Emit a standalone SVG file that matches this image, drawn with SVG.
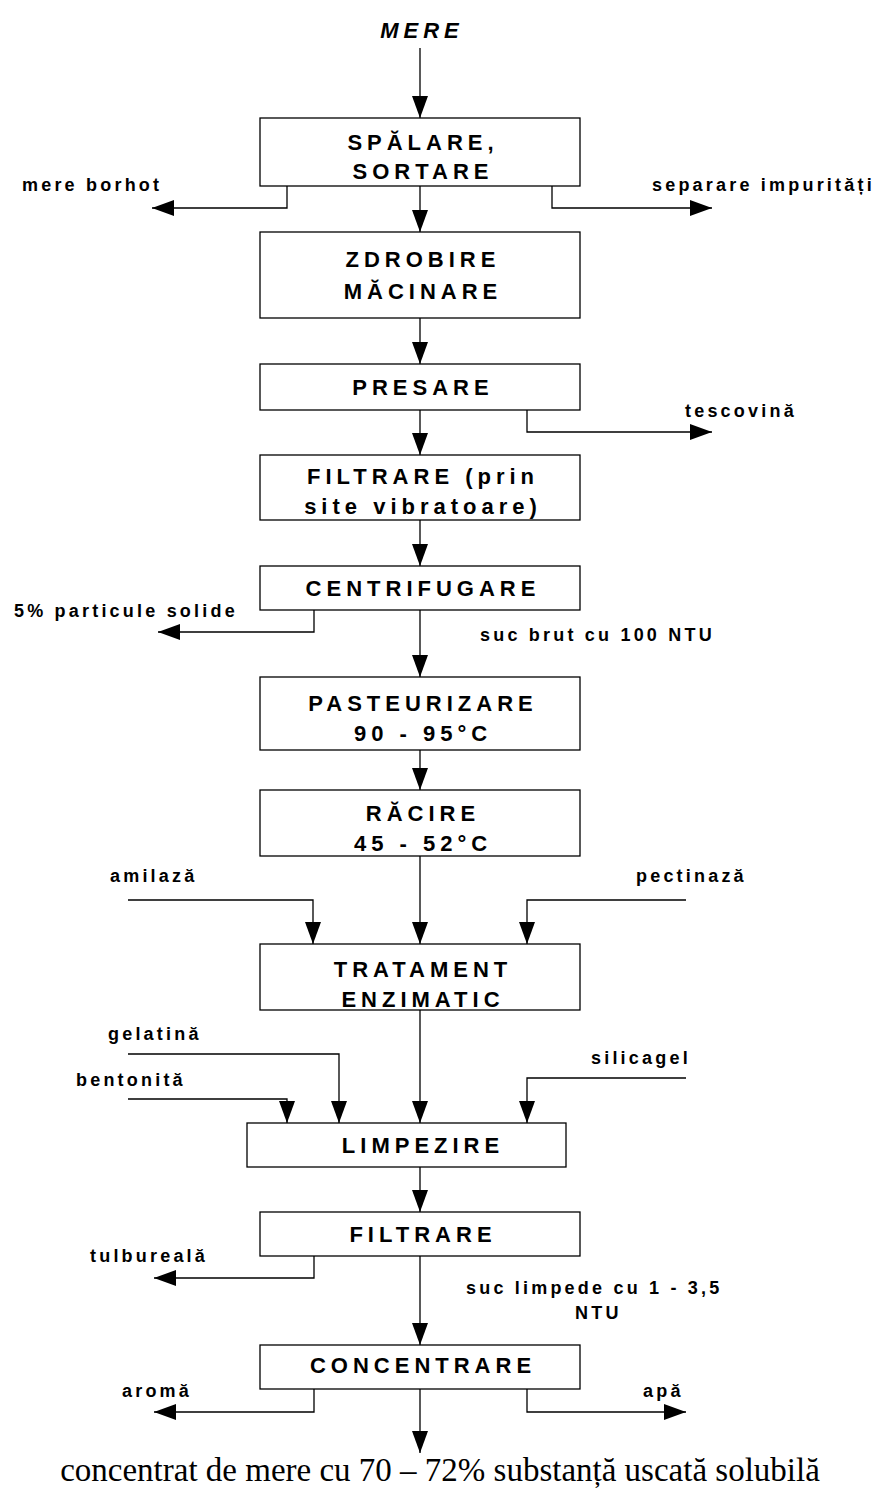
<svg xmlns="http://www.w3.org/2000/svg" width="877" height="1491" viewBox="0 0 877 1491">
<style>
.box{fill:#fff;stroke:#000;stroke-width:1.3}
.bl{font-family:"Liberation Sans",Arial,sans-serif;font-weight:bold;font-size:22px;letter-spacing:5px;text-anchor:middle;fill:#000}
.sl{font-family:"Liberation Sans",Arial,sans-serif;font-weight:bold;font-size:18px;letter-spacing:3.2px;fill:#000}
.ar{fill:none;stroke:#000;stroke-width:1.3;marker-end:url(#ah)}
</style>
<defs>
<marker id="ah" markerUnits="userSpaceOnUse" markerWidth="22" markerHeight="16" refX="22" refY="8" orient="auto">
<path d="M0,0 L22,8 L0,16 Z" fill="#000"/>
</marker>
</defs>
<rect width="877" height="1491" fill="#fff"/>

<g id="connectors">
<path class="ar" d="M420,48 V118"/>
<path class="ar" d="M420,186 V232"/>
<path class="ar" d="M287,186 V208 H152"/>
<path class="ar" d="M552,186 V208 H712"/>
<path class="ar" d="M420,318 V364"/>
<path class="ar" d="M420,410 V455"/>
<path class="ar" d="M527,410 V432 H712"/>
<path class="ar" d="M420,520 V566"/>
<path class="ar" d="M420,610 V677"/>
<path class="ar" d="M314,610 V632 H158"/>
<path class="ar" d="M420,750 V790"/>
<path class="ar" d="M420,856 V944"/>
<path class="ar" d="M128,900 H313 V944"/>
<path class="ar" d="M686,900 H527 V944"/>
<path class="ar" d="M420,1010 V1123"/>
<path class="ar" d="M128,1054 H339 V1123"/>
<path class="ar" d="M128,1099 H287 V1123"/>
<path class="ar" d="M686,1078 H527 V1123"/>
<path class="ar" d="M420,1167 V1212"/>
<path class="ar" d="M420,1256 V1345"/>
<path class="ar" d="M314,1256 V1278 H154"/>
<path class="ar" d="M420,1389 V1453"/>
<path class="ar" d="M314,1389 V1412 H154"/>
<path class="ar" d="M527,1389 V1412 H686"/>
</g>

<g id="mere"><text x="422" y="38" class="bl" font-style="italic" font-size="23">MERE</text></g>

<g id="spalare">
<rect class="box" x="260" y="118" width="320" height="68"/>
<text class="bl" x="423" y="150">SPĂLARE,</text>
<text class="bl" x="423" y="179">SORTARE</text>
</g>
<g id="mere-borhot"><text class="sl" x="22" y="191">mere borhot</text></g>
<g id="separare-impuritati"><text class="sl" x="652" y="191">separare impurități</text></g>

<g id="zdrobire">
<rect class="box" x="260" y="232" width="320" height="86"/>
<text class="bl" x="423" y="267">ZDROBIRE</text>
<text class="bl" x="423" y="299">MĂCINARE</text>
</g>

<g id="presare">
<rect class="box" x="260" y="364" width="320" height="46"/>
<text class="bl" x="423" y="395">PRESARE</text>
</g>
<g id="tescovina"><text class="sl" x="685" y="417">tescovină</text></g>

<g id="filtrare-site">
<rect class="box" x="260" y="455" width="320" height="65"/>
<text class="bl" x="423" y="484">FILTRARE (prin</text>
<text class="bl" x="423" y="514">site vibratoare)</text>
</g>

<g id="centrifugare">
<rect class="box" x="260" y="566" width="320" height="44"/>
<text class="bl" x="423" y="596">CENTRIFUGARE</text>
</g>
<g id="particule"><text class="sl" x="14" y="617">5% particule solide</text></g>
<g id="suc-brut"><text class="sl" x="480" y="641">suc brut cu 100 NTU</text></g>

<g id="pasteurizare">
<rect class="box" x="260" y="677" width="320" height="73"/>
<text class="bl" x="423" y="711">PASTEURIZARE</text>
<text class="bl" x="423" y="741">90 - 95°C</text>
</g>

<g id="racire">
<rect class="box" x="260" y="790" width="320" height="66"/>
<text class="bl" x="423" y="821">RĂCIRE</text>
<text class="bl" x="423" y="851">45 - 52°C</text>
</g>

<g id="amilaza"><text class="sl" x="110" y="882">amilază</text></g>
<g id="pectinaza"><text class="sl" x="636" y="882">pectinază</text></g>

<g id="tratament">
<rect class="box" x="260" y="944" width="320" height="66"/>
<text class="bl" x="423" y="977">TRATAMENT</text>
<text class="bl" x="423" y="1007">ENZIMATIC</text>
</g>

<g id="gelatina"><text class="sl" x="108" y="1040">gelatină</text></g>
<g id="bentonita"><text class="sl" x="76" y="1086">bentonită</text></g>
<g id="silicagel"><text class="sl" x="591" y="1064">silicagel</text></g>

<g id="limpezire">
<rect class="box" x="247" y="1123" width="319" height="44"/>
<text class="bl" x="423" y="1153">LIMPEZIRE</text>
</g>

<g id="filtrare">
<rect class="box" x="260" y="1212" width="320" height="44"/>
<text class="bl" x="423" y="1242">FILTRARE</text>
</g>
<g id="tulbureala"><text class="sl" x="90" y="1262">tulbureală</text></g>
<g id="suc-limpede">
<text class="sl" x="466" y="1294">suc limpede cu 1 - 3,5</text>
<text class="sl" x="575" y="1319">NTU</text>
</g>

<g id="concentrare">
<rect class="box" x="260" y="1345" width="320" height="44"/>
<text class="bl" x="423" y="1373">CONCENTRARE</text>
</g>
<g id="aroma"><text class="sl" x="122" y="1397">aromă</text></g>
<g id="apa"><text class="sl" x="643" y="1397">apă</text></g>

<g id="concentrat"><text x="440" y="1481" font-family="'Liberation Serif','Times New Roman',serif" font-size="33" text-anchor="middle" fill="#000">concentrat de mere cu 70 – 72% substanță uscată solubilă</text></g>
</svg>
